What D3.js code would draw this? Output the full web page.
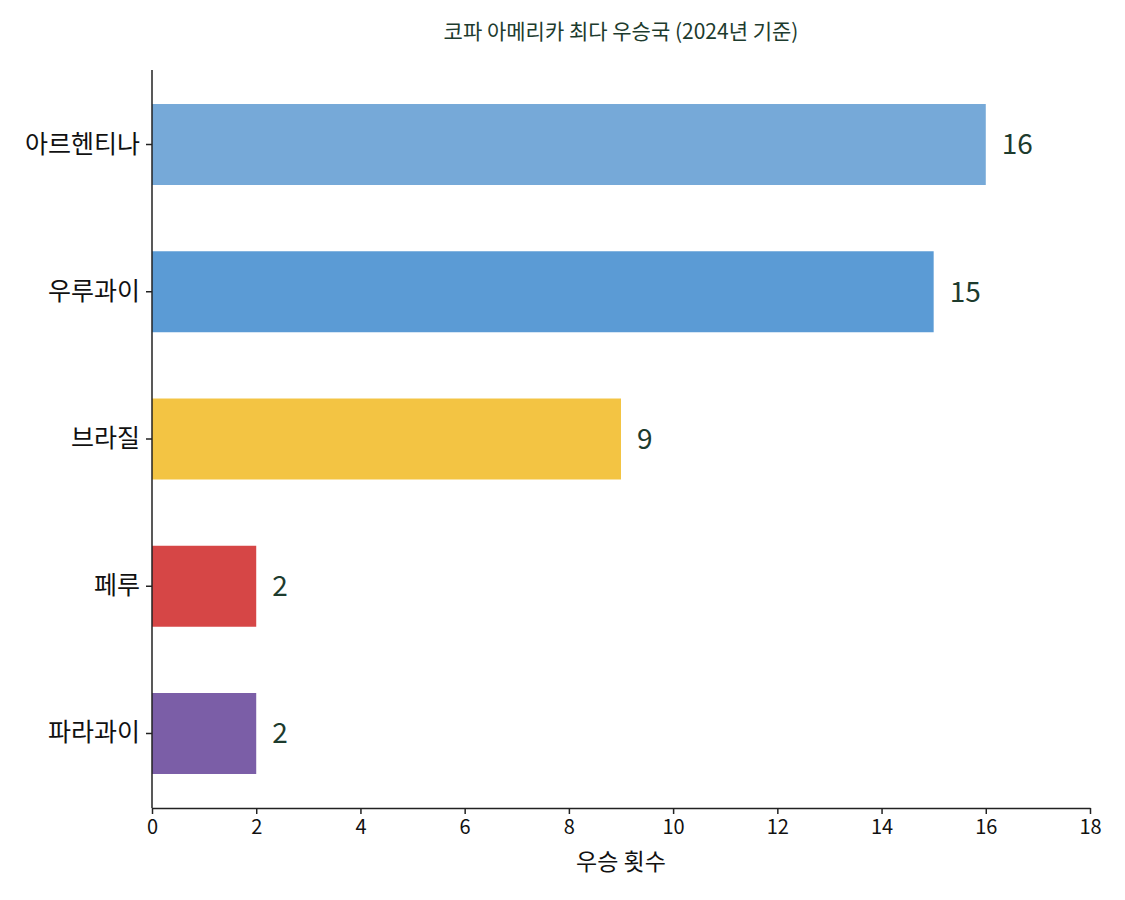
<!DOCTYPE html>
<html>
<head>
<meta charset="utf-8">
<script src="https://cdn.jsdelivr.net/npm/d3@7"></script>
<style>
  body { margin: 0; background: #fff; }
  svg text { font-family: "Noto Sans CJK KR", "Noto Sans", sans-serif; }
</style>
</head>
<body>
<svg id="chart"></svg>
<script>
let countries = ['아르헨티나', '우루과이', '브라질', '페루', '파라과이']
let wins = [16, 15, 9, 2, 2]
let colors = ['#76a9d8', '#5b9bd5', '#f3c443', '#d64646', '#7b5ea7']
let xTicks = [0, 2, 4, 6, 8, 10, 12, 14, 16, 18]

let width = 1125
let height = 900
let plotLeft = 152
let plotRight = 1090
let plotTop = 70
let plotBottom = 808

let svg = d3.select('#chart')
    .attr('width', width)
    .attr('height', height)

let xScale = d3.scaleLinear()
    .domain([0, 18])
    .range([plotLeft, plotRight])

let yScale = d3.scaleBand()
    .domain(countries)
    .range([plotTop, plotBottom])
    .paddingInner(0.45)
    .paddingOuter(0.231)

// bars
svg.selectAll('rect')
    .data(countries)
    .enter()
    .append('rect')
    .attr('x', xScale(0))
    .attr('y', (d) => yScale(d))
    .attr('width', (d, i) => xScale(wins[i]) - xScale(0))
    .attr('height', yScale.bandwidth())
    .attr('fill', (d, i) => colors[i])

// value labels
svg.selectAll('.value')
    .data(countries)
    .enter()
    .append('text')
    .attr('class', 'value')
    .attr('x', (d, i) => xScale(wins[i]) + 16)
    .attr('y', (d) => yScale(d) + yScale.bandwidth() / 2)
    .attr('dy', '0.35em')
    .attr('fill', '#1d3b2e')
    .style('font-size', '28px')
    .text((d, i) => wins[i])

// axes
let xAxis = d3.axisBottom(xScale)
    .tickValues(xTicks)
    .tickSize(6)
    .tickSizeOuter(0)
    .tickPadding(6)

let yAxis = d3.axisLeft(yScale)
    .tickSize(6)
    .tickSizeOuter(0)
    .tickPadding(6)

let gx = svg.append('g')
    .attr('transform', 'translate(0,' + plotBottom + ')')
    .call(xAxis)
gx.select('.domain').attr('stroke', '#222').attr('stroke-width', 1.5)
gx.selectAll('.tick line').attr('stroke', '#222').attr('stroke-width', 1.5)
gx.selectAll('.tick text').attr('fill', '#111').style('font-size', '20px')

let gy = svg.append('g')
    .attr('transform', 'translate(' + plotLeft + ',0)')
    .call(yAxis)
gy.select('.domain').attr('stroke', '#222').attr('stroke-width', 1.5)
gy.selectAll('.tick line').attr('stroke', '#222').attr('stroke-width', 1.5)
gy.selectAll('.tick text').attr('fill', '#111').style('font-size', '25px')

// left spine runs the full height of the plot area
gy.select('.domain').attr('d', 'M0,' + plotTop + 'V' + plotBottom)

// axis label
svg.append('text')
    .attr('x', (plotLeft + plotRight) / 2)
    .attr('y', 862)
    .attr('dy', '0.35em')
    .attr('text-anchor', 'middle')
    .attr('fill', '#111')
    .style('font-size', '23px')
    .text('우승 횟수')

// title
svg.append('text')
    .attr('x', (plotLeft + plotRight) / 2)
    .attr('y', 32)
    .attr('dy', '0.35em')
    .attr('text-anchor', 'middle')
    .attr('fill', '#1d3b2e')
    .style('font-size', '21px')
    .text('코파 아메리카 최다 우승국 (2024년 기준)')
</script>
</body>
</html>
